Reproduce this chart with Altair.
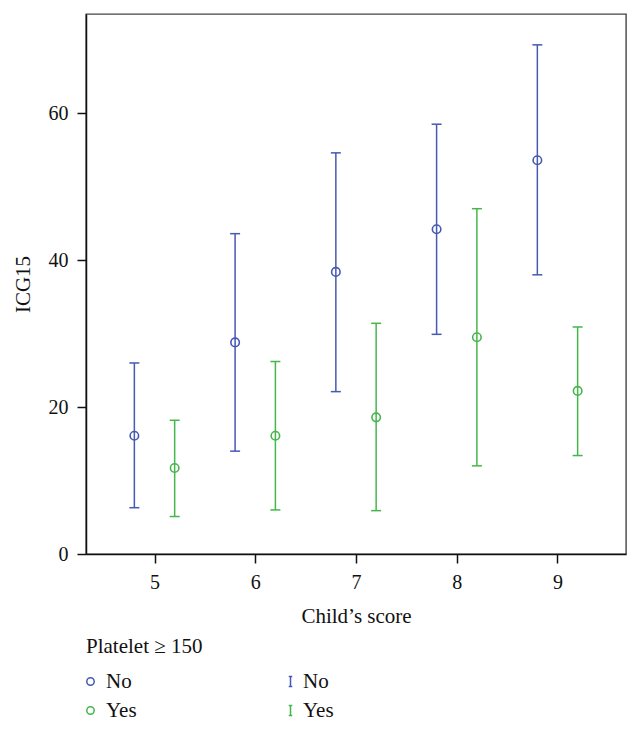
import altair as alt
import pandas as pd

scores = [5, 6, 7, 8, 9]
groups = ["No", "Yes"]

no_mean = [16.1, 28.8, 38.4, 44.2, 53.6]
no_lo = [6.3, 14.0, 22.1, 29.9, 38.0]
no_hi = [26.0, 43.6, 54.6, 58.5, 69.3]

yes_mean = [11.7, 16.1, 18.6, 29.5, 22.2]
yes_lo = [5.1, 6.0, 5.9, 12.0, 13.4]
yes_hi = [18.2, 26.2, 31.4, 47.0, 30.9]

rows = []
for i, s in enumerate(scores):
    rows.append(dict(score=s, group="No", mean=no_mean[i], lo=no_lo[i], hi=no_hi[i]))
    rows.append(dict(score=s, group="Yes", mean=yes_mean[i], lo=yes_lo[i], hi=yes_hi[i]))
df = pd.DataFrame(rows)

BLUE = "#4659b3"
GREEN = "#46b64c"
FONT = "Liberation Serif"

xscale = alt.Scale(domain=[4.32, 9.68], nice=False, zero=False)
yscale = alt.Scale(domain=[0, 73.5], nice=False, zero=True)
xaxis = alt.Axis(values=scores, title="Child’s score", format="d",
                 titleY=68, titleBaseline="alphabetic")
yaxis = alt.Axis(values=[0, 20, 40, 60], title="ICG15",
                 titleX=-57, titleY=270, titleBaseline="alphabetic", titleAngle=270)

base = alt.Chart(df).transform_calculate(
    xpos="datum.score + (datum.group === 'No' ? -0.2 : 0.2)",
    bargroup="'bar-' + datum.group",
)

ibeam = "M-0.35,-1H0.35M0,-1V1M-0.35,1H0.35"
stroke_enc = alt.Stroke(
    "bargroup:N",
    scale=alt.Scale(domain=["bar-" + g for g in groups], range=[BLUE, GREEN]),
    legend=alt.Legend(
        title=None, orient="none", legendX=194, legendY=657,
        symbolType=ibeam, symbolSize=100, symbolStrokeWidth=1.5,
        symbolFillColor="transparent", labelOffset=2, rowPadding=7,
        labelExpr="slice(datum.label, 4)",
    ),
)

rules = base.mark_rule(strokeWidth=1.5).encode(
    x=alt.X("xpos:Q", scale=xscale, axis=xaxis),
    y=alt.Y("lo:Q", scale=yscale, axis=yaxis),
    y2="hi:Q",
    stroke=stroke_enc,
)
cap_hi = base.mark_rule(strokeWidth=1.5, xOffset=-5, x2Offset=5).encode(
    x=alt.X("xpos:Q", scale=xscale, axis=xaxis),
    x2="xpos:Q",
    y=alt.Y("hi:Q", scale=yscale, axis=yaxis),
    stroke=stroke_enc,
)
cap_lo = base.mark_rule(strokeWidth=1.5, xOffset=-5, x2Offset=5).encode(
    x=alt.X("xpos:Q", scale=xscale, axis=xaxis),
    x2="xpos:Q",
    y=alt.Y("lo:Q", scale=yscale, axis=yaxis),
    stroke=stroke_enc,
)
points = base.mark_point(shape="circle", filled=False, size=72, strokeWidth=1.6, opacity=1).encode(
    x=alt.X("xpos:Q", scale=xscale, axis=xaxis),
    y=alt.Y("mean:Q", scale=yscale, axis=yaxis),
    color=alt.Color(
        "group:N",
        scale=alt.Scale(domain=groups, range=[BLUE, GREEN]),
        legend=alt.Legend(
            title="Platelet ≥ 150", orient="none", legendX=0, legendY=622,
            symbolType="circle", symbolSize=55, symbolStrokeWidth=1.5,
            symbolFillColor="transparent", symbolOffset=-6, labelOffset=5,
            rowPadding=7, titlePadding=14,
        ),
    ),
)

chart = alt.layer(rules, cap_hi, cap_lo, points).properties(
    width=540, height=540,
    autosize=alt.AutoSizeParams(type="none"),
    padding={"left": 78, "top": 6, "right": 7, "bottom": 170},
).configure(font=FONT).configure_axis(
    labelFont=FONT, titleFont=FONT, labelFontSize=20, titleFontSize=21,
    labelColor="#111", titleColor="#111", titleFontWeight="normal",
    domainColor="#111", tickColor="#111", domainWidth=1.5, tickWidth=1.5,
    tickSize=9, labelPadding=9, grid=False,
).configure_view(stroke="#444", strokeWidth=1.4).configure_legend(
    labelFont=FONT, titleFont=FONT, labelFontSize=21, titleFontSize=21,
    labelColor="#111", titleColor="#111", titleFontWeight="normal", padding=0,
)

chart.save("out.html", embed_options={"renderer": "svg", "actions": False})
